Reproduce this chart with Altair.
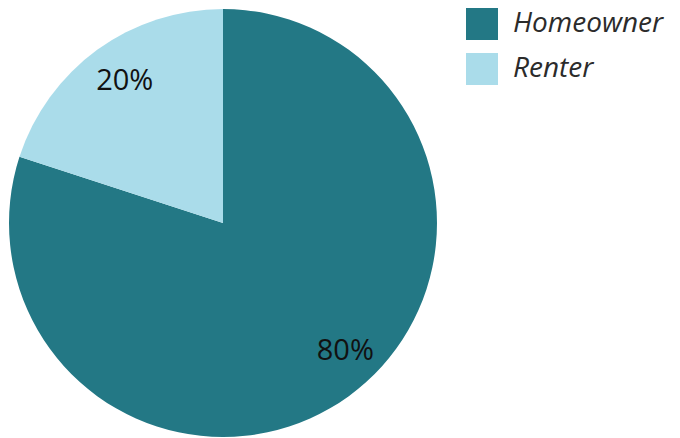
import altair as alt
import pandas as pd

categories = ["Homeowner", "Renter"]
shares = [80, 20]
labels = ["80%", "20%"]
colors = ["#237885", "#AADCEA"]

df = pd.DataFrame({"category": categories, "share": shares, "label": labels,
                   "order": [0, 1]})

theta_scale = alt.Scale(domain=[0, 100])

pie = alt.Chart(df).mark_arc(outerRadius=214).encode(
    theta=alt.Theta("share:Q", stack=True, scale=theta_scale),
    order=alt.Order("order:Q"),
    x=alt.value(215),
    y=alt.value(215),
    color=alt.Color(
        "category:N",
        scale=alt.Scale(domain=categories, range=colors),
        sort=categories,
        legend=alt.Legend(
            title=None,
            orient="none",
            legendX=458,
            legendY=0,
            symbolType="square",
            symbolSize=1024,
            symbolStrokeWidth=0,
            labelFont="Open Sans",
            labelFontStyle="italic",
            labelFontSize=28,
            labelColor="#2b2b2b",
            labelOffset=15,
            labelLimit=400,
            rowPadding=13,
        ),
    ),
)

text_base = alt.Chart(df).transform_window(
    cum="sum(share)", sort=[alt.SortField("order")]
).transform_calculate(
    mid="datum.cum - datum.share / 2"
)

text_style = dict(radius=174, font="Open Sans", fontSize=29, fontWeight=500,
                  color="#111111")

text_own = text_base.transform_filter(
    alt.datum.category == "Homeowner"
).mark_text(dx=20, dy=-13, **text_style).encode(
    theta=alt.Theta("mid:Q", stack=None, scale=theta_scale),
    x=alt.value(215),
    y=alt.value(215),
    text="label:N",
)

text_rent = text_base.transform_filter(
    alt.datum.category == "Renter"
).mark_text(dx=4, dy=-1, **text_style).encode(
    theta=alt.Theta("mid:Q", stack=None, scale=theta_scale),
    x=alt.value(215),
    y=alt.value(215),
    text="label:N",
)

chart = (pie + text_own + text_rent).properties(
    width=664, height=430, padding=0, autosize=alt.AutoSizeParams(type="none")
).configure_view(stroke=None)

chart.save("out.html", embed_options={"renderer": "svg", "actions": False})
